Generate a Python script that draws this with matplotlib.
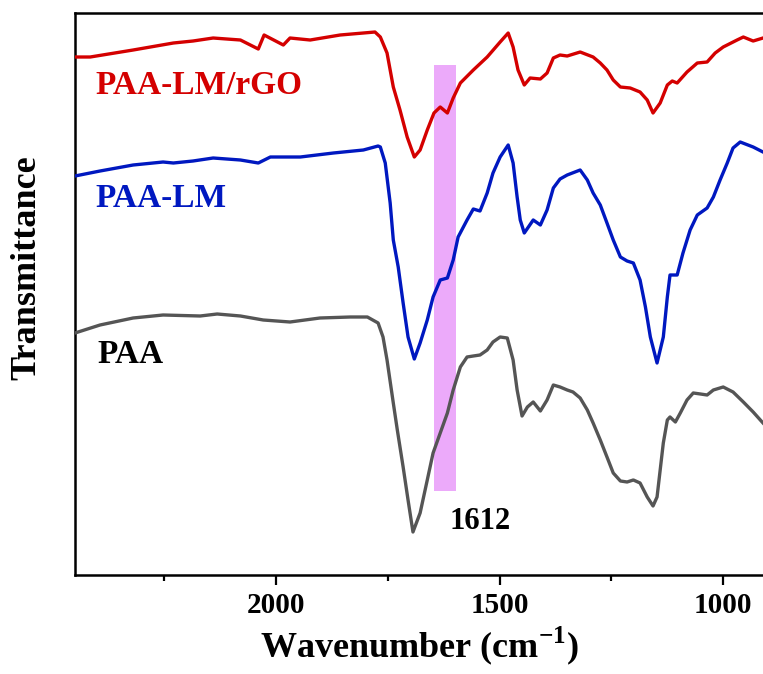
import numpy as np
import matplotlib
matplotlib.use("Agg")
import matplotlib.pyplot as plt
from matplotlib.ticker import MultipleLocator

plt.rcParams['font.family'] = ['Liberation Serif', 'DejaVu Serif']
plt.rcParams['mathtext.fontset'] = 'custom'
plt.rcParams['mathtext.rm'] = 'Liberation Serif'
plt.rcParams['mathtext.bf'] = 'Liberation Serif:bold'

# PAA-LM/rGO spectrum (wavenumber, transmittance a.u.)
rgo_wn = [2450, 2416, 2320, 2230, 2186, 2141, 2080, 2040, 2027, 1984, 1969, 1924,
          1857, 1805, 1779, 1767, 1752, 1738, 1723, 1707, 1691, 1678, 1662, 1647,
          1633, 1617, 1604, 1588, 1559, 1528, 1499, 1481, 1470, 1459, 1445, 1432,
          1409, 1394, 1380, 1365, 1349, 1320, 1291, 1275, 1260, 1246, 1230, 1208,
          1186, 1170, 1157, 1141, 1125, 1114, 1103, 1081, 1058, 1036, 1018, 1000,
          969, 955, 933, 911]
rgo_t = [518, 518, 525, 532, 534, 537, 535, 526, 540, 530, 537, 535,
         540, 542, 543, 538, 522, 488, 465, 438, 418, 425, 445, 462,
         468, 462, 477, 492, 505, 518, 533, 542, 528, 505, 490, 497,
         496, 502, 517, 520, 519, 523, 518, 512, 505, 495, 488, 487,
         483, 475, 462, 472, 490, 494, 492, 503, 512, 513, 522, 528,
         535, 538, 534, 537]

# PAA-LM spectrum
lm_wn = [2450, 2394, 2320, 2253, 2230, 2186, 2141, 2080, 2040, 2013, 1946, 1872,
         1805, 1772, 1767, 1756, 1745, 1738, 1727, 1716, 1705, 1691, 1678, 1662,
         1649, 1633, 1617, 1604, 1593, 1573, 1559, 1544, 1528, 1515, 1499, 1481,
         1470, 1461, 1454, 1445, 1425, 1409, 1394, 1380, 1365, 1349, 1320, 1304,
         1291, 1275, 1260, 1246, 1230, 1215, 1201, 1186, 1174, 1163, 1148, 1134,
         1125, 1119, 1103, 1090, 1074, 1058, 1036, 1022, 1007, 991, 978, 962,
         933, 911]
lm_t = [399, 404, 410, 413, 412, 414, 417, 415, 412, 418, 418, 422,
        425, 429, 428, 412, 372, 335, 308, 272, 238, 216, 232, 255,
        278, 295, 297, 315, 338, 355, 366, 364, 382, 402, 418, 430,
        412, 378, 355, 342, 355, 350, 365, 387, 396, 400, 405, 395,
        382, 370, 352, 335, 318, 314, 312, 295, 268, 238, 212, 238,
        278, 300, 300, 322, 345, 360, 367, 378, 395, 412, 427, 433,
        428, 423]

# PAA spectrum
paa_wn = [2450, 2394, 2320, 2253, 2170, 2132, 2080, 2029, 1969, 1902, 1834, 1796,
          1772, 1761, 1752, 1738, 1729, 1716, 1705, 1694, 1678, 1662, 1649, 1633,
          1617, 1604, 1588, 1573, 1559, 1544, 1528, 1515, 1499, 1483, 1470, 1461,
          1450, 1438, 1425, 1409, 1394, 1380, 1365, 1349, 1336, 1320, 1304, 1291,
          1275, 1260, 1246, 1230, 1215, 1201, 1186, 1170, 1157, 1148, 1141, 1134,
          1125, 1119, 1107, 1096, 1081, 1067, 1051, 1036, 1022, 1000, 978, 955,
          933, 911]
paa_t = [242, 250, 257, 260, 259, 261, 259, 255, 253, 257, 258, 258,
         252, 238, 215, 172, 145, 108, 75, 43, 62, 95, 122, 142,
         162, 185, 208, 218, 219, 220, 225, 233, 238, 237, 215, 185,
         159, 168, 173, 164, 175, 190, 188, 185, 183, 177, 165, 152,
         135, 118, 102, 94, 93, 95, 92, 78, 69, 78, 105, 132,
         155, 158, 153, 162, 175, 182, 181, 180, 185, 188, 183, 173,
         163, 152]

band = (1647, 1597)

fig = plt.figure(figsize=(7.63, 6.74), dpi=100)
ax = fig.add_axes([0.0983, 0.1469, 0.9017, 0.8338])

ax.fill_between(band, 84, 510, color='#ECAAFA', zorder=1, linewidth=0)
ax.plot(rgo_wn, rgo_t, color='#D40000', lw=2.4, zorder=3)
ax.plot(lm_wn, lm_t, color='#0018C0', lw=2.4, zorder=3)
ax.plot(paa_wn, paa_t, color='#555555', lw=2.4, zorder=3)

ax.text(2405, 490, 'PAA-LM/rGO', color='#D40000', fontsize=24, fontweight='bold',
        ha='left', va='center')
ax.text(2405, 377, 'PAA-LM', color='#0018C0', fontsize=24, fontweight='bold',
        ha='left', va='center')
ax.text(2400, 220, 'PAA', color='black', fontsize=24, fontweight='bold',
        ha='left', va='center')
ax.text(1613, 53, '1612', color='black', fontsize=22, fontweight='bold',
        ha='left', va='center')

ax.set_xlim(2450, 911)
ax.set_ylim(0, 562)
ax.xaxis.set_major_locator(MultipleLocator(500))
ax.xaxis.set_minor_locator(MultipleLocator(250))
ax.set_yticks([])
ax.tick_params(axis='x', which='major', direction='out', length=7, width=1.6,
               labelsize=21, pad=5)
ax.tick_params(axis='x', which='minor', direction='out', length=4, width=1.6)
for lab in ax.get_xticklabels():
    lab.set_fontweight('bold')
for side in ['left', 'bottom', 'top']:
    ax.spines[side].set_linewidth(1.8)
ax.spines['right'].set_visible(False)

ax.set_xlabel(r'Wavenumber (cm$^{\mathbf{-1}}$)', fontsize=26, fontweight='bold', labelpad=4)
ax.set_ylabel('Transmittance', fontsize=26, fontweight='bold')
ax.yaxis.set_label_coords(-0.046, 0.546)

fig.savefig('out.png', dpi=100)
